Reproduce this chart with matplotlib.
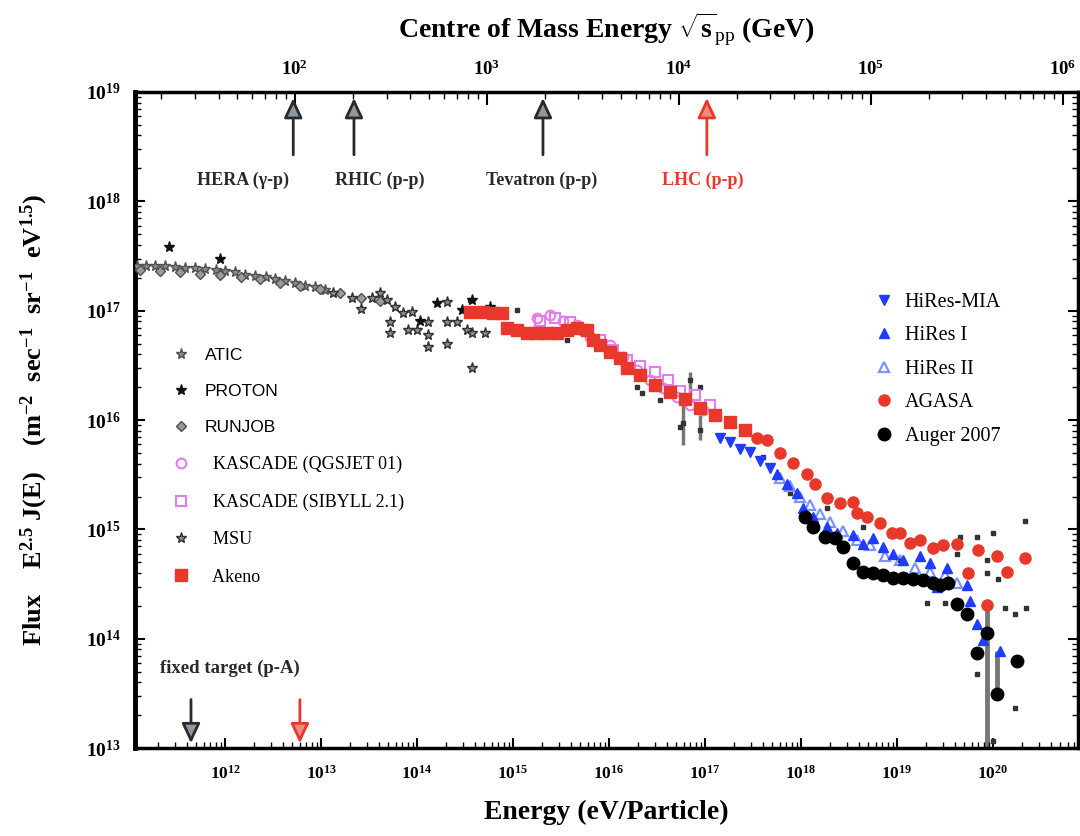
import numpy as np
import matplotlib.pyplot as plt
from matplotlib.ticker import FuncFormatter

plt.rcParams['font.family'] = ['Liberation Serif', 'DejaVu Serif']
plt.rcParams['mathtext.fontset'] = 'custom'
plt.rcParams['mathtext.rm'] = 'Liberation Serif'
plt.rcParams['mathtext.bf'] = 'Liberation Serif:bold'
plt.rcParams['mathtext.it'] = 'Liberation Serif:italic'
plt.rcParams['mathtext.default'] = 'bf'

# ---- data, log10(E / eV) and log10(E^2.5 J(E)) ----
atic_logE = [11.08, 11.17, 11.27, 11.375, 11.48, 11.58, 11.69, 11.79, 11.90, 12.00,
             12.10, 12.21, 12.31, 12.42, 12.52, 12.625, 12.73, 12.83, 12.94, 13.04]
atic_logF = [17.41, 17.41, 17.41, 17.41, 17.40, 17.39, 17.39, 17.38, 17.37, 17.36,
             17.35, 17.33, 17.32, 17.31, 17.29, 17.27, 17.25, 17.23, 17.22, 17.19]

runjob_logE = [11.115, 11.32, 11.53, 11.74, 11.95, 12.16, 12.36, 12.57, 12.78, 12.99,
               13.20, 13.41, 13.61]
runjob_logF = [17.37, 17.36, 17.35, 17.34, 17.33, 17.31, 17.29, 17.25, 17.23, 17.20,
               17.16, 17.12, 17.09]

proton_logE = [11.41, 11.95, 14.03, 14.21, 14.47, 14.57, 14.76]
proton_logF = [17.58, 17.47, 16.91, 17.07, 17.01, 17.10, 17.03]

msu_logE = [13.125, 13.32, 13.41, 13.53, 13.61, 13.69, 13.77, 13.85, 13.95, 13.72,
            13.72, 13.91, 14.00, 14.11, 14.11, 14.11, 14.31, 14.31, 14.42, 14.31,
            14.52, 14.57, 14.57, 14.71]
msu_logF = [17.16, 17.12, 17.02, 17.12, 17.16, 17.10, 17.03, 16.98, 16.99, 16.90,
            16.80, 16.82, 16.82, 16.90, 16.78, 16.67, 17.08, 16.90, 16.90, 16.70,
            16.82, 16.80, 16.48, 16.80]

qgsjet_logE = [15.25, 15.385, 15.52, 15.67, 15.80, 16.01, 16.15, 16.29, 16.43, 16.56,
               16.71, 16.84, 16.98]
qgsjet_logF = [16.93, 16.96, 16.91, 16.87, 16.76, 16.69, 16.58, 16.46, 16.37, 16.29,
               16.21, 16.14, 16.09]

sibyll_logE = [15.28, 15.44, 15.59, 15.75, 15.91, 16.04, 16.19, 16.32, 16.48, 16.61,
               16.74, 16.90, 17.05]
sibyll_logF = [16.91, 16.93, 16.90, 16.82, 16.73, 16.64, 16.55, 16.49, 16.44, 16.37,
               16.27, 16.23, 16.14]

akeno_logE = [14.55, 14.69, 14.79, 14.885, 14.94, 15.04, 15.15, 15.25, 15.35, 15.46,
              15.56, 15.67, 15.77, 15.83, 15.91, 16.01, 16.11, 16.19, 16.32, 16.48,
              16.64, 16.79, 16.95, 17.10, 17.26, 17.42]
akeno_logF = [16.99, 16.99, 16.98, 16.98, 16.84, 16.82, 16.80, 16.80, 16.80, 16.80,
              16.82, 16.84, 16.82, 16.73, 16.69, 16.62, 16.57, 16.48, 16.41, 16.32,
              16.26, 16.19, 16.11, 16.05, 15.98, 15.91]

agasa_logE = [17.54, 17.65, 17.78, 17.92, 18.06, 18.15, 18.27, 18.41, 18.54, 18.58,
              18.69, 18.82, 18.95, 19.03, 19.14, 19.24, 19.375, 19.48, 19.625, 19.84,
              20.04, 20.33, 20.15, 19.74, 19.94]
agasa_logF = [15.84, 15.82, 15.70, 15.61, 15.51, 15.42, 15.29, 15.24, 15.25, 15.15,
              15.11, 15.06, 14.97, 14.97, 14.88, 14.90, 14.83, 14.86, 14.87, 14.81,
              14.76, 14.74, 14.61, 14.60, 14.31]

mia_logE = [17.16, 17.26, 17.36, 17.47, 17.57, 17.68]
mia_logF = [15.84, 15.80, 15.74, 15.71, 15.63, 15.56]

hires1_logE = [17.75, 17.85, 17.96, 18.02, 18.125, 18.27, 18.375, 18.54, 18.65, 18.75,
               18.85, 18.96, 19.06, 19.24, 19.34, 19.52, 19.42, 19.73, 19.76, 19.83,
               19.90, 20.07]
hires1_logF = [15.51, 15.42, 15.33, 15.20, 15.11, 15.02, 14.97, 14.95, 14.87, 14.92,
               14.84, 14.78, 14.72, 14.76, 14.69, 14.65, 14.47, 14.49, 14.35, 14.14,
               13.99, 13.89]

hires2_logE = [17.78, 17.885, 17.99, 18.09, 18.20, 18.30, 18.44, 18.58, 18.72, 18.875,
               19.03, 19.19, 19.34, 19.50, 19.625]
hires2_logF = [15.47, 15.40, 15.30, 15.22, 15.14, 15.07, 14.99, 14.90, 14.86, 14.76,
               14.72, 14.65, 14.61, 14.58, 14.51]

auger_logE = [18.04, 18.125, 18.25, 18.35, 18.44, 18.54, 18.65, 18.75, 18.85, 18.96,
              19.06, 19.17, 19.27, 19.375, 19.45, 19.53, 19.625, 19.73, 19.94, 19.83,
              20.04, 20.25]
auger_logF = [15.11, 15.02, 14.93, 14.92, 14.84, 14.69, 14.61, 14.60, 14.58, 14.56,
              14.56, 14.55, 14.54, 14.51, 14.49, 14.51, 14.32, 14.23, 14.05, 13.87,
              13.50, 13.80]
auger_err_logE = [19.94, 20.04]
auger_err_lo = [12.90, 13.44]
auger_err_hi = [14.28, 13.89]

other_logE = [14.55, 15.04, 15.56, 16.29, 16.34, 16.53, 16.74, 16.77, 16.84, 16.95,
              16.95, 17.60, 17.885, 18.27, 18.65, 19.03, 19.31, 19.50, 19.625, 19.66,
              19.83, 20.00, 20.33, 19.94, 20.05, 20.125, 20.23, 20.35, 19.83, 20.23,
              20.00, 19.94]
other_logF = [17.10, 17.01, 16.73, 16.30, 16.25, 16.18, 15.94, 15.97, 16.37, 16.30,
              15.91, 15.66, 15.33, 15.20, 15.02, 14.72, 14.33, 14.33, 14.78, 14.93,
              14.93, 14.97, 15.08, 14.60, 14.55, 14.28, 14.23, 14.28, 13.68, 13.37,
              13.07, 14.72]
other_err_logE = [16.77, 16.84, 16.95]
other_err_lo = [15.77, 16.23, 15.82]
other_err_hi = [16.14, 16.44, 16.05]

# colliders: sqrt(s) in GeV, fixed target beams: E in eV
colliders = ['HERA (γ-p)', 'RHIC (p-p)', 'Tevatron (p-p)', 'LHC (p-p)']
collider_sqrt_s = [98, 203, 1960, 14000]
fixed_target_E = [4.4e11, 6.0e12]

M_P = 0.938  # GeV
E_MIN, E_MAX = 10 ** 11.06, 10 ** 20.885
F_MIN, F_MAX = 1e13, 1e19


def to_sqrt_s(e):
    e = np.clip(np.asarray(e, dtype=float), 1e-30, None)
    return np.sqrt(2 * M_P * e / 1e9)


def from_sqrt_s(r):
    r = np.asarray(r, dtype=float)
    return r ** 2 / (2 * M_P) * 1e9


def P(a):
    return 10 ** np.asarray(a, dtype=float)


def pow_formatter(lo, hi):
    # only label decades that are inside the visible range
    def fmt(v, pos):
        if v <= 0 or v < lo * 0.999 or v > hi * 1.001:
            return ''
        return r'$\mathbf{10^{%d}}$' % int(round(np.log10(v)))
    return FuncFormatter(fmt)


RED = '#e8382b'
BLUE = '#1f3cff'
LBLUE = '#7d93ff'
MAG = '#e57bf0'
GRAY = '#505050'

fig = plt.figure(figsize=(10.8, 8.36), dpi=100)
ax = fig.add_axes([0.125, 0.105, 0.873, 0.785])
ax.set_xscale('log')
ax.set_yscale('log')

# error bars
ax.vlines(P(other_err_logE), P(other_err_lo), P(other_err_hi), color='#777777', lw=2.5, zorder=1)
ax.vlines(P(auger_err_logE), P(auger_err_lo), P(auger_err_hi), color='#777777', lw=3.5, zorder=1)

ax.plot(P(other_logE), P(other_logF), ls='none', marker='s', ms=3.5, color='#333333', zorder=2)

h_atic, = ax.plot(P(atic_logE), P(atic_logF), ls='none', marker='*', ms=8, mfc='#8a8a8a',
                  mec=GRAY, mew=1, label='ATIC', zorder=3)
h_runjob, = ax.plot(P(runjob_logE), P(runjob_logF), ls='none', marker='D', ms=5, mfc='#9a9a9a',
                    mec=GRAY, mew=1, label='RUNJOB', zorder=3)
h_msu, = ax.plot(P(msu_logE), P(msu_logF), ls='none', marker='*', ms=8, mfc='#8a8a8a',
                 mec='#303030', mew=1, label='MSU', zorder=3)
h_proton, = ax.plot(P(proton_logE), P(proton_logF), ls='none', marker='*', ms=8,
                    color='#111111', label='PROTON', zorder=4)

h_akeno, = ax.plot(P(akeno_logE), P(akeno_logF), ls='none', marker='s', ms=8.5, color=RED,
                   label='Akeno', zorder=4)
h_qgs, = ax.plot(P(qgsjet_logE), P(qgsjet_logF), ls='none', marker='o', ms=7, mfc='none',
                 mec=MAG, mew=1.5, label='KASCADE (QGSJET 01)', zorder=3)
h_sib, = ax.plot(P(sibyll_logE), P(sibyll_logF), ls='none', marker='s', ms=7, mfc='none',
                 mec=MAG, mew=1.5, label='KASCADE (SIBYLL 2.1)', zorder=3)

h_mia, = ax.plot(P(mia_logE), P(mia_logF), ls='none', marker='v', ms=7.5, color=BLUE,
                 label='HiRes-MIA', zorder=4)
h_h2, = ax.plot(P(hires2_logE), P(hires2_logF), ls='none', marker='^', ms=7.5, mfc='none',
                mec=LBLUE, mew=1.6, label='HiRes II', zorder=4)
h_h1, = ax.plot(P(hires1_logE), P(hires1_logF), ls='none', marker='^', ms=7.5, color=BLUE,
                label='HiRes I', zorder=4)
h_agasa, = ax.plot(P(agasa_logE), P(agasa_logF), ls='none', marker='o', ms=8, color=RED,
                   label='AGASA', zorder=5)
h_auger, = ax.plot(P(auger_logE), P(auger_logF), ls='none', marker='o', ms=9, color='black',
                   label='Auger 2007', zorder=5)

ax.set_xlim(E_MIN, E_MAX)
ax.set_ylim(F_MIN, F_MAX)

# collider arrows at the top
for name, rs in zip(colliders, collider_sqrt_s):
    e = from_sqrt_s(rs)
    red = name.startswith('LHC')
    ec = RED if red else '#2a2a2a'
    fc = '#f08a80' if red else '#8d98a3'
    ax.annotate('', xy=(e, 10 ** 18.97), xytext=(e, 10 ** 18.40),
                arrowprops=dict(arrowstyle='-|>,head_length=0.6,head_width=0.28',
                                mutation_scale=20, lw=2, ec=ec, fc=fc))

label_logE = [12.19, 13.61, 15.30, 16.98]
for name, le in zip(colliders, label_logE):
    ax.text(10 ** le, 10 ** 18.19, name, ha='center', va='center', fontsize=13,
            fontweight='bold', color=RED if name.startswith('LHC') else '#2a2a2a')

# fixed target arrows at the bottom
for e, col, fc in zip(fixed_target_E, ['#2a2a2a', RED], ['#8d98a3', '#f08a80']):
    ax.annotate('', xy=(e, 10 ** 13.02), xytext=(e, 10 ** 13.47),
                arrowprops=dict(arrowstyle='-|>,head_length=0.6,head_width=0.28',
                                mutation_scale=20, lw=2, ec=col, fc=fc))
ax.text(10 ** 12.05, 10 ** 13.73, 'fixed target (p-A)', ha='center', va='center',
        fontsize=13.5, fontweight='bold', color='#2a2a2a')

# axes styling
for s in ax.spines.values():
    s.set_linewidth(2.5)
ax.spines['left'].set_linewidth(3.5)
ax.tick_params(which='both', direction='in', top=False, right=True)
ax.tick_params(which='major', length=7, width=1.5)
ax.tick_params(which='minor', length=4, width=1)
ax.tick_params(axis='x', which='major', labelsize=12.5, pad=12)
ax.tick_params(axis='y', which='major', labelsize=14, pad=10)
ax.xaxis.set_major_formatter(pow_formatter(E_MIN, E_MAX))
ax.yaxis.set_major_formatter(pow_formatter(F_MIN, F_MAX))

sec = ax.secondary_xaxis('top', functions=(to_sqrt_s, from_sqrt_s))
sec.tick_params(which='both', direction='in')
sec.tick_params(which='major', length=9, width=1.5, labelsize=13.5, pad=9)
sec.tick_params(which='minor', length=5, width=1)
sec.xaxis.set_major_formatter(pow_formatter(float(to_sqrt_s(E_MIN)), float(to_sqrt_s(E_MAX))))
sec.set_xlabel(r'Centre of Mass Energy $\sqrt{s}_{\mathrm{pp}}$ (GeV)', fontsize=20,
               fontweight='bold', labelpad=16)

ax.set_xlabel('Energy (eV/Particle)', fontsize=20, fontweight='bold', labelpad=12)
ax.set_ylabel(r'Flux    E$^{2.5}$ J(E)    (m$^{-2}$  sec$^{-1}$  sr$^{-1}$  eV$^{1.5}$)',
              fontsize=19, fontweight='bold', labelpad=26)

# legends
left_handles = [h_atic, h_proton, h_runjob, h_qgs, h_sib, h_msu, h_akeno]
left_labels = ['ATIC', 'PROTON', 'RUNJOB', '  KASCADE (QGSJET 01)',
               '  KASCADE (SIBYLL 2.1)', '  MSU', '  Akeno']
leg1 = ax.legend(left_handles, left_labels, loc='upper left', bbox_to_anchor=(0.022, 0.635),
                 frameon=False, fontsize=13, labelspacing=1.13, handletextpad=0.8,
                 handlelength=1.0)
for i, t in enumerate(leg1.get_texts()):
    if i < 3:
        t.set_fontfamily(['Liberation Sans', 'DejaVu Sans'])
        t.set_fontsize(12.5)
ax.add_artist(leg1)

right_handles = [h_mia, h_h1, h_h2, h_agasa, h_auger]
ax.legend(right_handles, [h.get_label() for h in right_handles], loc='upper left',
          bbox_to_anchor=(0.765, 0.722), frameon=False, fontsize=14.5, labelspacing=0.72,
          handletextpad=0.5, handlelength=1.0)

fig.savefig('out.png', dpi=100)
